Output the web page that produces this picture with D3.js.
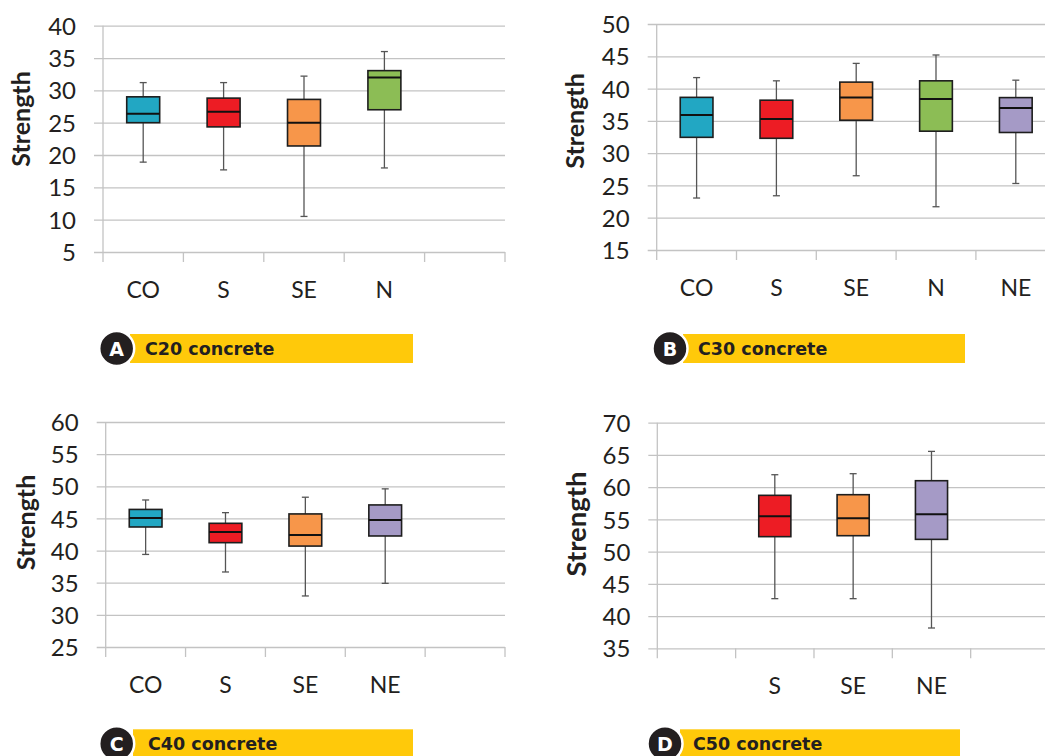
<!DOCTYPE html>
<html><head><meta charset="utf-8">
<script src="https://cdn.jsdelivr.net/npm/d3@7"></script>
<style>body{margin:0;background:#fff}</style></head>
<body><svg id="chart" width="1045" height="756"></svg>
<script>
// ---------- Panel A : C20 concrete ----------
const categoriesA = ["CO", "S", "SE", "N", ""];
const boxCatsA = ["CO", "S", "SE", "N"];
const lowA  = [18.9, 17.7, 10.5, 18.0];
const q1A   = [25.0, 24.35, 21.4, 27.0];
const medA  = [26.4, 26.7, 25.0, 32.0];
const q3A   = [29.0, 28.8, 28.6, 33.05];
const highA = [31.2, 31.2, 32.2, 36.0];
const ticksA = [5, 10, 15, 20, 25, 30, 35, 40];

// ---------- Panel B : C30 concrete ----------
const categoriesB = ["CO", "S", "SE", "N", "NE"];
const boxCatsB = ["CO", "S", "SE", "N", "NE"];
const lowB  = [23.05, 23.4, 26.5, 21.7, 25.3];
const q1B   = [32.45, 32.3, 35.1, 33.4, 33.2];
const medB  = [35.9, 35.3, 38.6, 38.4, 37.0];
const q3B   = [38.64, 38.2, 41.0, 41.2, 38.6];
const highB = [41.7, 41.2, 43.9, 45.2, 41.3];
const ticksB = [15, 20, 25, 30, 35, 40, 45, 50];

// ---------- Panel C : C40 concrete ----------
const categoriesC = ["CO", "S", "SE", "NE", ""];
const boxCatsC = ["CO", "S", "SE", "NE"];
const lowC  = [39.4, 36.67, 32.94, 34.9];
const q1C   = [43.67, 41.23, 40.7, 42.27];
const medC  = [45.07, 42.9, 42.43, 44.76];
const q3C   = [46.4, 44.24, 45.7, 47.1];
const highC = [47.87, 45.9, 48.3, 49.6];
const ticksC = [25, 30, 35, 40, 45, 50, 55, 60];

// ---------- Panel D : C50 concrete ----------
const categoriesD = ["", "S", "SE", "NE", ""];
const boxCatsD = ["S", "SE", "NE"];
const lowD  = [42.7, 42.7, 38.15];
const q1D   = [52.32, 52.47, 51.9];
const medD  = [55.47, 55.16, 55.78];
const q3D   = [58.73, 58.83, 61.0];
const highD = [61.93, 62.09, 65.55];
const ticksD = [35, 40, 45, 50, 55, 60, 65, 70];

const titles = ["C20 concrete", "C30 concrete", "C40 concrete", "C50 concrete"];
const letters = ["A", "B", "C", "D"];
const yLabel = "Strength";

const colorByCat = {CO: "#22a7c3", S: "#ed1c24", SE: "#f7964a", N: "#8cbd55", NE: "#a59ac6"};

const svg = d3.select("#chart");
const axisFont = "Lato, 'Open Sans', sans-serif";
const gridColor = "#c3c3c3";
const textColor = "#231f20";

function drawPanel(p) {
  const x = d3.scaleBand().domain(d3.range(p.categories.length)).range([p.x0, p.x1]);
  const y = d3.scaleLinear().domain([p.ticks[0], p.ticks[p.ticks.length - 1]]).range([p.yBot, p.yTop]);
  const g = svg.append("g");

  // gridlines + y labels
  const ya = g.append("g").attr("transform", `translate(${p.x0 - 9},0)`)
    .call(d3.axisLeft(y).tickValues(p.ticks).tickSize(-(p.x1 - p.x0 + 9)).tickPadding(18));
  ya.select(".domain").remove();
  ya.selectAll(".tick line").attr("stroke", gridColor).attr("stroke-width", 1.3);
  ya.selectAll(".tick text").attr("fill", textColor).style("font-family", axisFont)
    .style("font-size", "24px").attr("dy", "0.36em");

  // vertical axis line
  g.append("line").attr("x1", p.x0).attr("x2", p.x0).attr("y1", p.yTop).attr("y2", p.yBot + 10)
    .attr("stroke", gridColor).attr("stroke-width", 1.3);
  // category boundary ticks
  const bounds = d3.range(p.categories.length + 1).map(i => p.x0 + i * x.step());
  g.selectAll(".ctick").data(bounds.slice(1)).join("line")
    .attr("x1", d => d).attr("x2", d => d).attr("y1", p.yBot).attr("y2", p.yBot + 10)
    .attr("stroke", gridColor).attr("stroke-width", 1.3);
  // category labels
  const xa = g.append("g").attr("transform", `translate(0,${p.yBot})`)
    .call(d3.axisBottom(x).tickSize(0).tickPadding(0).tickFormat(i => p.categories[i]));
  xa.select(".domain").remove();
  xa.selectAll(".tick text").attr("fill", textColor).style("font-family", axisFont)
    .style("font-size", "23px").attr("dy", null).attr("y", 46);

  // y title
  g.append("text").attr("transform", `translate(${p.titleX},${p.titleY}) rotate(-90)`)
    .attr("text-anchor", "middle").attr("dominant-baseline", "central")
    .style("font-family", axisFont).style("font-weight", "bold").style("font-size", p.titleSize + "px")
    .attr("fill", textColor).text(yLabel);

  // boxes
  const bw = x.step() * 0.41;
  const cap = 7;
  p.boxCats.forEach((c, i) => {
    const cx = x(p.categories.indexOf(c)) + x.bandwidth() / 2;
    const b = g.append("g");
    b.append("line").attr("x1", cx).attr("x2", cx).attr("y1", y(p.high[i])).attr("y2", y(p.low[i]))
      .attr("stroke", "#555").attr("stroke-width", 1.3);
    [p.high[i], p.low[i]].forEach(v => {
      b.append("line").attr("x1", cx - cap / 2).attr("x2", cx + cap / 2).attr("y1", y(v)).attr("y2", y(v))
        .attr("stroke", "#555").attr("stroke-width", 1.3);
    });
    b.append("rect").attr("x", cx - bw / 2).attr("width", bw)
      .attr("y", y(p.q3[i])).attr("height", y(p.q1[i]) - y(p.q3[i]))
      .attr("fill", colorByCat[c]).attr("stroke", "#1e1e1e").attr("stroke-width", 1.6);
    b.append("line").attr("x1", cx - bw / 2).attr("x2", cx + bw / 2).attr("y1", y(p.med[i])).attr("y2", y(p.med[i]))
      .attr("stroke", "#111").attr("stroke-width", 2);
  });

  // caption badge
  const cg = svg.append("g");
  cg.append("rect").attr("x", p.barX0).attr("y", p.barY).attr("width", p.barX1 - p.barX0).attr("height", 29)
    .attr("fill", "#ffc90a");
  cg.append("circle").attr("cx", p.circX).attr("cy", p.barY + 14.5).attr("r", 17.5)
    .attr("fill", "#231f20").attr("stroke", "#fff").attr("stroke-width", 2.5);
  cg.append("text").attr("x", p.circX).attr("y", p.barY + 14.5).attr("text-anchor", "middle")
    .attr("dominant-baseline", "central").attr("fill", "#fff")
    .style("font-family", "'DejaVu Sans', sans-serif").style("font-weight", "bold").style("font-size", "19px")
    .text(p.letter);
  cg.append("text").attr("x", p.textX).attr("y", p.barY + 21).attr("fill", "#231f20")
    .style("font-family", "'DejaVu Sans', sans-serif").style("font-weight", "bold").style("font-size", "17.5px")
    .text(p.title);
}

drawPanel({categories: categoriesA, boxCats: boxCatsA, low: lowA, q1: q1A, med: medA, q3: q3A, high: highA, ticks: ticksA,
  x0: 103, x1: 505, yTop: 25.7, yBot: 252, titleX: 20, titleY: 119, titleSize: 25,
  barX0: 130, barX1: 413, barY: 334, circX: 116.7, textX: 145, letter: letters[0], title: titles[0]});
drawPanel({categories: categoriesB, boxCats: boxCatsB, low: lowB, q1: q1B, med: medB, q3: q3B, high: highB, ticks: ticksB,
  x0: 656.7, x1: 1055.7, yTop: 24, yBot: 250, titleX: 574, titleY: 121, titleSize: 25,
  barX0: 683, barX1: 965, barY: 334, circX: 670, textX: 698, letter: letters[1], title: titles[1]});
drawPanel({categories: categoriesC, boxCats: boxCatsC, low: lowC, q1: q1C, med: medC, q3: q3C, high: highC, ticks: ticksC,
  x0: 105.7, x1: 505, yTop: 422, yBot: 647, titleX: 25, titleY: 522.5, titleSize: 25,
  barX0: 133, barX1: 413, barY: 729.3, circX: 116.7, textX: 148, letter: letters[2], title: titles[2]});
drawPanel({categories: categoriesD, boxCats: boxCatsD, low: lowD, q1: q1D, med: medD, q3: q3D, high: highD, ticks: ticksD,
  x0: 657.3, x1: 1049, yTop: 422.7, yBot: 648.3, titleX: 575.5, titleY: 524, titleSize: 27.5,
  barX0: 680, barX1: 960, barY: 729.3, circX: 665, textX: 693, letter: letters[3], title: titles[3]});
</script>
</body></html>
